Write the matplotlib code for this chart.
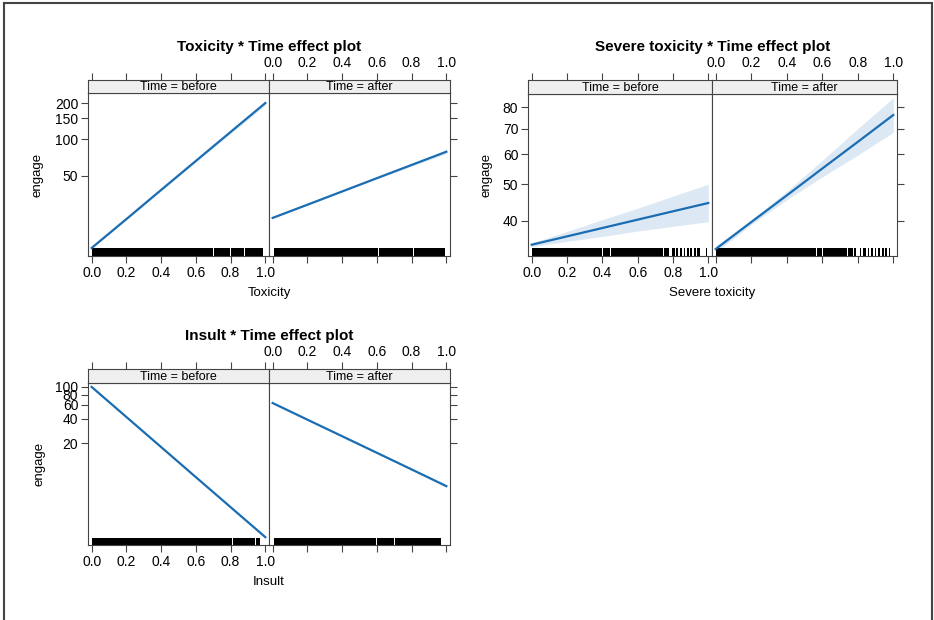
import numpy as np
import matplotlib
matplotlib.use("Agg")
from matplotlib import pyplot as plt
from matplotlib.lines import Line2D
from matplotlib.ticker import NullLocator

plt.rcParams['font.family'] = ['Liberation Sans', 'DejaVu Sans']

W, H = 934, 620

# effect grid
x_grid = [0.0, 0.2, 0.4, 0.6, 0.8, 1.0]
x_ticks = [0.0, 0.2, 0.4, 0.6, 0.8, 1.0]
x_tick_labels = ["0.0", "0.2", "0.4", "0.6", "0.8", "1.0"]
panels = ["Time = before", "Time = after"]

# Toxicity
tox_before = [12.7, 22.0, 38.3, 66.5, 115.4, 200.0]
tox_before_lo = [12.6, 21.7, 37.6, 65.0, 112.0, 192.0]
tox_before_hi = [12.8, 22.3, 39.0, 68.0, 118.8, 208.0]
tox_after = [22.5, 28.9, 37.2, 47.9, 61.6, 79.2]
tox_after_lo = [22.3, 28.6, 36.8, 47.2, 60.2, 76.4]
tox_after_hi = [22.7, 29.2, 37.6, 48.6, 63.0, 82.0]
tox_rug_before = [(0.0, 0.529), (0.532, 0.599), (0.602, 0.699), (0.702, 0.799),
                  (0.802, 0.879), (0.882, 0.985)]
tox_rug_after = [(0.005, 0.609), (0.612, 0.709), (0.712, 0.809), (0.812, 0.899),
                 (0.902, 0.99)]

# Severe toxicity
sev_before = [34.6, 36.4, 38.3, 40.3, 42.4, 44.6]
sev_before_lo = [34.2, 35.3, 36.4, 37.6, 38.7, 39.8]
sev_before_hi = [35.0, 37.5, 40.3, 43.2, 46.5, 50.0]
sev_after = [33.7, 39.7, 46.7, 55.0, 64.7, 76.2]
sev_after_lo = [33.0, 39.1, 45.5, 52.3, 59.7, 68.6]
sev_after_hi = [34.4, 40.3, 47.9, 57.8, 70.1, 84.6]
sev_rug_before = [(0.0, 0.362), (0.364, 0.375), (0.378, 0.39), (0.393, 0.40), (0.403, 0.445),
                  (0.447, 0.595), (0.598, 0.607), (0.61, 0.72),
                  (0.722, 0.73), (0.733, 0.745), (0.748, 0.76), (0.763, 0.775),
                  (0.795, 0.81), (0.815, 0.83), (0.84, 0.85), (0.86, 0.87), (0.88, 0.89),
                  (0.895, 0.905), (0.92, 0.93), (0.935, 0.955), (0.985, 0.99)]
sev_rug_after = [(0.0, 0.567), (0.57, 0.58), (0.583, 0.60), (0.603, 0.72),
                 (0.723, 0.74), (0.743, 0.755), (0.758, 0.775), (0.778, 0.79),
                 (0.81, 0.82), (0.83, 0.845), (0.855, 0.865), (0.875, 0.885),
                 (0.895, 0.905), (0.915, 0.925), (0.935, 0.945), (0.955, 0.965),
                 (0.975, 0.98)]

# Insult
ins_before = [100.0, 42.2, 17.8, 7.5, 3.17, 1.34]
ins_before_lo = [98.5, 41.6, 17.5, 7.37, 3.10, 1.30]
ins_before_hi = [101.5, 42.8, 18.1, 7.63, 3.24, 1.38]
ins_after = [63.0, 39.1, 24.3, 15.1, 9.37, 5.8]
ins_after_lo = [62.2, 38.7, 24.1, 14.9, 9.2, 5.6]
ins_after_hi = [63.8, 39.5, 24.5, 15.3, 9.55, 6.0]
ins_rug_before = [(0.0, 0.587), (0.59, 0.692), (0.695, 0.81), (0.813, 0.94), (0.945, 0.97)]
ins_rug_after = [(0.005, 0.597), (0.60, 0.70), (0.703, 0.80), (0.803, 0.97)]

fig = plt.figure(figsize=(W / 100, H / 100), dpi=100)

line_col = "#1a6db3"
band_col = "#dce8f4"
frame_col = "#444444"


def fx(px):
    return px / W


def box(x0, x1, y0, y1):
    return [x0 / W, 1 - y1 / H, (x1 - x0) / W, (y1 - y0) / H]


def effect_plot(xs, panel_px, y_strip, y_top, y_bot, series, ylim, yticks, title, xlabel,
                ylabel_x, rug_h):
    (l0, l1), (r0, r1) = panel_px
    for i, (a, b) in enumerate([(l0, l1), (r0, r1)]):
        ax = fig.add_axes(box(a, b, y_top, y_bot))
        y, lo, hi, rug = series[i]
        ax.fill_between(xs, lo, hi, color=band_col, lw=0)
        ax.plot(xs, y, color=line_col, lw=1.6)
        for s, e in rug:
            ax.axvspan(s, e, ymin=0, ymax=rug_h, color="black", lw=0)
        ax.set_yscale("log")
        ax.set_xlim(-0.021, 1.021)
        ax.set_ylim(*ylim)
        ax.yaxis.set_minor_locator(NullLocator())
        ax.set_yticks(yticks)
        ax.set_xticks(x_ticks)
        for sp in ax.spines.values():
            sp.set_color(frame_col)
        ax.tick_params(direction="out", length=5, color=frame_col, labelsize=10, pad=2)
        if i == 0:
            ax.set_yticklabels([str(t) for t in yticks])
            ax.set_xticklabels(x_tick_labels)
        else:
            ax.yaxis.tick_right()
            ax.set_yticklabels([])
            ax.set_xticklabels([])

        st = fig.add_axes(box(a, b, y_strip, y_top))
        st.set_facecolor("#efefef")
        st.set_xlim(-0.021, 1.021)
        st.set_yticks([])
        st.xaxis.tick_top()
        st.set_xticks(x_ticks)
        st.set_xticklabels(x_tick_labels if i == 1 else [])
        st.tick_params(direction="out", length=5, color=frame_col, labelsize=10, pad=2)
        for sp in st.spines.values():
            sp.set_color(frame_col)
        st.text(0.5, 0.45, panels[i], transform=st.transAxes, ha="center", va="center",
                fontsize=9)

    mid = (l0 + r1) / 2
    fig.text(fx(mid), 1 - (y_strip - 33) / H, title, ha="center", va="center",
             fontsize=11, fontweight="bold")
    fig.text(fx(mid), 1 - (y_bot + 37) / H, xlabel, ha="center", va="center", fontsize=9.5)
    fig.text(fx(ylabel_x), 1 - ((y_top + y_bot) / 2) / H, "engage", rotation=90,
             ha="center", va="center", fontsize=9.5)


effect_plot(x_grid, [(88, 269), (269, 450)], 80, 93, 256,
            [(tox_before, tox_before_lo, tox_before_hi, tox_rug_before),
             (tox_after, tox_after_lo, tox_after_hi, tox_rug_after)],
            (10.9, 242), [50, 100, 150, 200], "Toxicity * Time effect plot", "Toxicity",
            38, 0.05)

effect_plot(x_grid, [(528, 712), (712, 897)], 80, 94, 256,
            [(sev_before, sev_before_lo, sev_before_hi, sev_rug_before),
             (sev_after, sev_after_lo, sev_after_hi, sev_rug_after)],
            (32.3, 86.6), [40, 50, 60, 70, 80], "Severe toxicity * Time effect plot",
            "Severe toxicity", 486, 0.05)

effect_plot(x_grid, [(88, 269), (269, 450)], 369, 383, 545,
            [(ins_before, ins_before_lo, ins_before_hi, ins_rug_before),
             (ins_after, ins_after_lo, ins_after_hi, ins_rug_after)],
            (1.07, 112), [20, 40, 60, 80, 100], "Insult * Time effect plot", "Insult",
            40, 0.045)

# outer frame (left, top, right)
for xs_, ys_ in [([4, 4], [3, 620]), ([4, 932], [3, 3]), ([932, 932], [3, 620])]:
    fig.add_artist(Line2D([fx(v) for v in xs_], [1 - v / H for v in ys_],
                          transform=fig.transFigure, color="#444444", lw=1.5))

fig.savefig("out.png", dpi=100)
